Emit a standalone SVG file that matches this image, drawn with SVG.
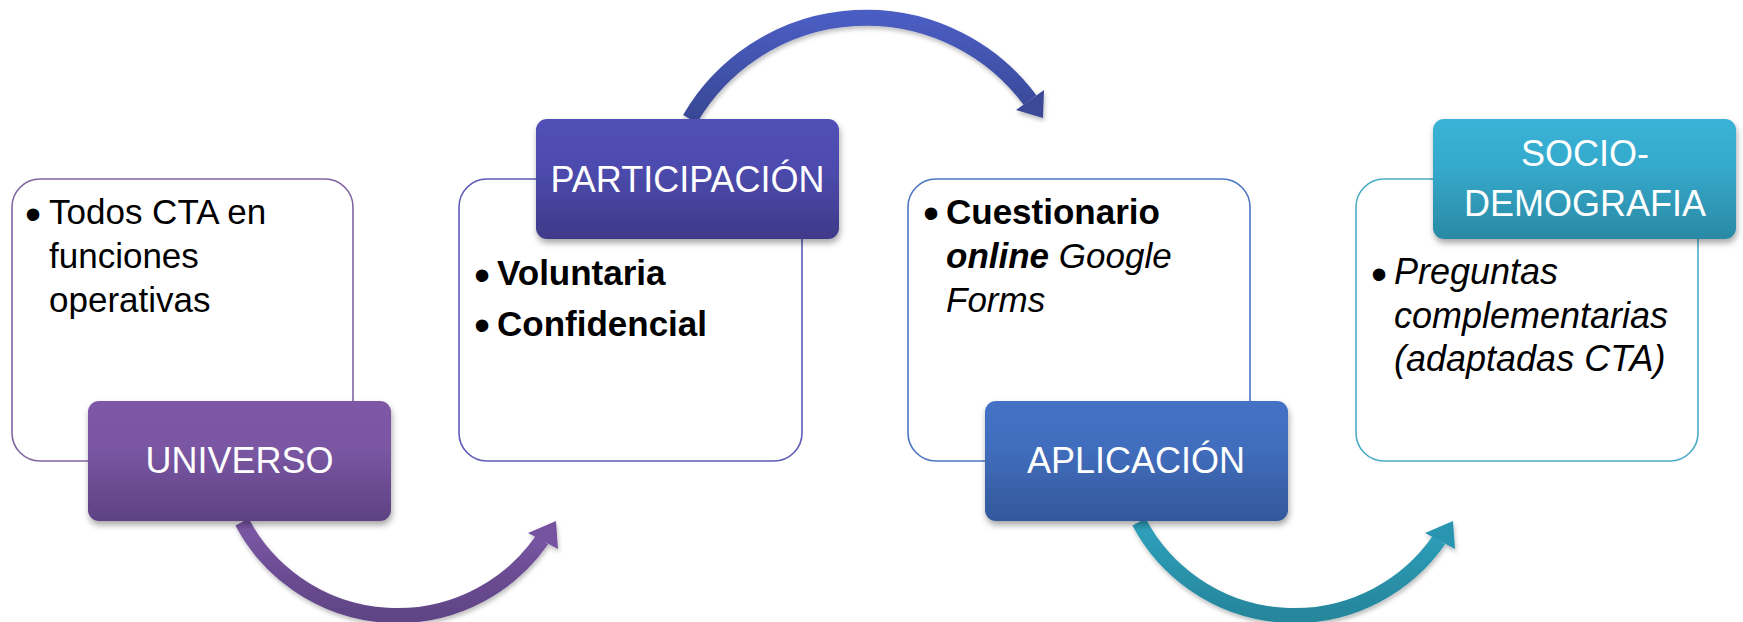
<svg xmlns="http://www.w3.org/2000/svg" width="1743" height="622" viewBox="0 0 1743 622">
<style>
  .card{fill:#ffffff;stroke-width:1.6}
  .hdr{filter:url(#sh)}
  .ht{font-family:"Liberation Sans",Arial,sans-serif;font-size:36px;fill:#ffffff;text-anchor:middle}
  .ct{font-family:"Liberation Sans",Arial,sans-serif;font-size:35px;fill:#000000}
  .bul{font-size:46px;font-weight:normal;font-style:normal}
  .b{font-weight:bold}
  .i{font-style:italic}
  .arc{fill:none}
</style>
<defs>
  <filter id="sh" x="-10%" y="-10%" width="125%" height="135%">
    <feDropShadow dx="1" dy="4" stdDeviation="3" flood-color="#000" flood-opacity="0.35"/>
  </filter>
  <filter id="ash" x="-10%" y="-10%" width="130%" height="130%">
    <feDropShadow dx="1" dy="3" stdDeviation="2" flood-color="#000" flood-opacity="0.25"/>
  </filter>
  <linearGradient id="gPur" x1="0" y1="0" x2="0" y2="1">
    <stop offset="0" stop-color="#7E58A7"/>
    <stop offset="0.4" stop-color="#7A56A3"/>
    <stop offset="1" stop-color="#5E4283"/>
  </linearGradient>
  <linearGradient id="gInd" x1="0" y1="0" x2="0" y2="1">
    <stop offset="0" stop-color="#5150B6"/>
    <stop offset="0.4" stop-color="#4D4BAE"/>
    <stop offset="1" stop-color="#3E3A89"/>
  </linearGradient>
  <linearGradient id="gBlu" x1="0" y1="0" x2="0" y2="1">
    <stop offset="0" stop-color="#4472C5"/>
    <stop offset="0.4" stop-color="#416DBD"/>
    <stop offset="1" stop-color="#33589A"/>
  </linearGradient>
  <linearGradient id="gTea" x1="0" y1="0" x2="0" y2="1">
    <stop offset="0" stop-color="#38B3D7"/>
    <stop offset="0.4" stop-color="#35A9CC"/>
    <stop offset="1" stop-color="#2A89A4"/>
  </linearGradient>
  <linearGradient id="aPur" x1="0" y1="0" x2="0" y2="1">
    <stop offset="0" stop-color="#7C58A6"/>
    <stop offset="1" stop-color="#5F4485"/>
  </linearGradient>
  <linearGradient id="aInd" x1="0" y1="0" x2="0" y2="1">
    <stop offset="0" stop-color="#4A5DC2"/>
    <stop offset="1" stop-color="#384794"/>
  </linearGradient>
  <linearGradient id="aTea" x1="0" y1="0" x2="0" y2="1">
    <stop offset="0" stop-color="#2FA1BD"/>
    <stop offset="1" stop-color="#26869C"/>
  </linearGradient>
</defs>

<g id="connectors">
  <g id="arrow-universo-participacion" filter="url(#ash)">
    <path class="arc" d="M242 522 A176 176 0 0 0 542 540" stroke="url(#aPur)" stroke-width="15"/>
    <polygon points="556,521 528,533 558,549" fill="#7553A0"/>
  </g>
  <g id="arrow-participacion-aplicacion" filter="url(#ash)">
    <path class="arc" d="M690 119 A204 204 0 0 1 1030 100" stroke="url(#aInd)" stroke-width="16"/>
    <polygon points="1043,118 1016,110 1044,90" fill="#3A4996"/>
  </g>
  <g id="arrow-aplicacion-sociodemografia" filter="url(#ash)">
    <path class="arc" d="M1139 522 A176 176 0 0 0 1439 540" stroke="url(#aTea)" stroke-width="15"/>
    <polygon points="1453,521 1425,533 1455,549" fill="#2B95B0"/>
  </g>
</g>

<g id="node-universo">
  <rect class="card" x="12" y="179" width="341" height="282" rx="28" stroke="#8064A2"/>
  <text class="ct" y="224"><tspan class="bul" x="25" dy="6">•</tspan><tspan x="49" dy="-6">Todos CTA en</tspan></text>
  <text class="ct" x="49" y="268">funciones</text>
  <text class="ct" x="49" y="312">operativas</text>
  <rect class="hdr" x="88" y="401" width="303" height="120" rx="11" fill="url(#gPur)"/>
  <text class="ht" x="239.5" y="473">UNIVERSO</text>
</g>

<g id="node-participacion">
  <rect class="card" x="459" y="179" width="343" height="282" rx="28" stroke="#5F5BB7"/>
  <text class="ct" y="285"><tspan class="bul" x="474" dy="6">•</tspan><tspan class="b" x="497" dy="-6">Voluntaria</tspan></text>
  <text class="ct" y="336"><tspan class="bul" x="474" dy="5">•</tspan><tspan class="b" x="497" dy="-5">Confidencial</tspan></text>
  <rect class="hdr" x="536" y="119" width="303" height="120" rx="11" fill="url(#gInd)"/>
  <text class="ht" x="687.5" y="192">PARTICIPACIÓN</text>
</g>

<g id="node-aplicacion">
  <rect class="card" x="908" y="179" width="342" height="282" rx="28" stroke="#4A76C2"/>
  <text class="ct" y="224"><tspan class="bul" x="923" dy="5">•</tspan><tspan class="b" x="946" dy="-5">Cuestionario</tspan></text>
  <text class="ct" x="946" y="268"><tspan class="b i">online</tspan><tspan class="i"> Google</tspan></text>
  <text class="ct i" x="946" y="312">Forms</text>
  <rect class="hdr" x="985" y="401" width="303" height="120" rx="11" fill="url(#gBlu)"/>
  <text class="ht" x="1136" y="473">APLICACIÓN</text>
</g>

<g id="node-sociodemografia">
  <rect class="card" x="1356" y="179" width="342" height="282" rx="28" stroke="#4BACC6"/>
  <text class="ct" y="284" style="font-size:36px"><tspan class="bul" x="1371" dy="6">•</tspan><tspan class="i" x="1394" dy="-6">Preguntas</tspan></text>
  <text class="ct i" x="1394" y="328" style="font-size:36px">complementarias</text>
  <text class="ct i" x="1394" y="371" style="font-size:36px">(adaptadas CTA)</text>
  <rect class="hdr" x="1433" y="119" width="303" height="120" rx="11" fill="url(#gTea)"/>
  <text class="ht" x="1585" y="166">SOCIO-</text>
  <text class="ht" x="1585" y="216">DEMOGRAFIA</text>
</g>
</svg>
